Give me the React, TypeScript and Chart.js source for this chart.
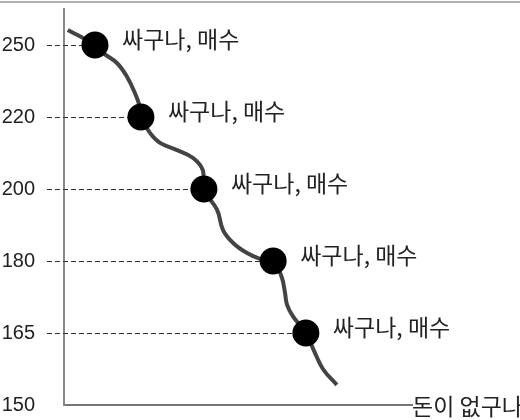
import React, { useEffect, useRef } from "react";
import { Chart, registerables } from "chart.js";

Chart.register(...registerables);

// Price levels shown on the vertical axis (top to bottom)
const priceLabels: string[] = ["250", "220", "200", "180", "165", "150"];

// "Buy" markers: time position and price-level index
const buyX: number[] = [8.9, 22.1, 40.2, 60.1, 69.5];
const buyLevel: number[] = [0, 1, 2, 3, 4];
const buyLabels: string[] = ["싸구나, 매수", "싸구나, 매수", "싸구나, 매수", "싸구나, 매수", "싸구나, 매수"];

// Price path (time, price-level index)
const curveX: number[] = [1.1, 8.9, 11.2, 15.2, 18.1, 20.4, 21.8, 22.1, 24.7, 27.6, 32.5, 37.1, 39.9, 40.2, 44.0, 45.7, 48.6, 52.6, 56.3, 60.1, 62.6, 63.5, 64.1, 65.8, 69.5, 71.6, 74.4, 78.4];
const curveY: number[] = [-0.21, 0, 0.11, 0.25, 0.44, 0.67, 0.86, 1.0, 1.22, 1.36, 1.46, 1.57, 1.74, 2.0, 2.29, 2.57, 2.75, 2.89, 2.97, 3.0, 3.23, 3.44, 3.61, 3.77, 4.0, 4.22, 4.5, 4.72];

const endLabel = "돈이 없구나";

const KR_FONT = '"Noto Sans CJK KR", "Noto Sans", sans-serif';

export default function App() {
  const ref = useRef<HTMLCanvasElement | null>(null);

  useEffect(() => {
    if (!ref.current) return;

    const decor = {
      id: "decor",
      beforeDatasetsDraw(chart: any) {
        const { ctx, chartArea, scales } = chart;
        const xs = scales.x;
        const ys = scales.y;
        ctx.save();
        // top frame line
        ctx.strokeStyle = "#9a9a9a";
        ctx.lineWidth = 1.5;
        ctx.beginPath();
        ctx.moveTo(0, 2);
        ctx.lineTo(chart.width, 2);
        ctx.stroke();
        // dashed guides from axis to each marker
        ctx.strokeStyle = "#333";
        ctx.lineWidth = 1;
        ctx.setLineDash([5, 3]);
        for (let i = 0; i < buyX.length; i++) {
          const y = Math.round(ys.getPixelForValue(buyLevel[i])) + 0.5;
          const x = xs.getPixelForValue(buyX[i]);
          ctx.beginPath();
          ctx.moveTo(chartArea.left - 17, y);
          ctx.lineTo(x, y);
          ctx.stroke();
        }
        ctx.restore();
      },
      afterDatasetsDraw(chart: any) {
        const { ctx, chartArea, scales } = chart;
        const xs = scales.x;
        const ys = scales.y;
        ctx.save();
        ctx.fillStyle = "#222";
        ctx.font = `23px ${KR_FONT}`;
        ctx.textAlign = "left";
        ctx.textBaseline = "middle";
        for (let i = 0; i < buyX.length; i++) {
          const x = xs.getPixelForValue(buyX[i]);
          const y = ys.getPixelForValue(buyLevel[i]);
          ctx.fillText(buyLabels[i], x + 27, y - 6);
        }
        ctx.fillText(endLabel, chartArea.right, chartArea.bottom + 1);
        ctx.restore();
      },
    };

    const chart = new Chart(ref.current, {
      type: "scatter",
      data: {
        datasets: [
          {
            data: curveX.map((x, i) => ({ x, y: curveY[i] })),
            showLine: true,
            tension: 0.4,
            borderColor: "#444",
            borderWidth: 4,
            pointRadius: 0,
            pointHoverRadius: 0,
            order: 2,
          },
          {
            data: buyX.map((x, i) => ({ x, y: buyLevel[i] })),
            showLine: false,
            pointRadius: 13.5,
            pointHoverRadius: 13.5,
            backgroundColor: "#000",
            borderColor: "#000",
            borderWidth: 0,
            order: 1,
          },
        ],
      },
      options: {
        animation: false,
        responsive: false,
        devicePixelRatio: 1,
        layout: { autoPadding: false, padding: { left: 0, right: 108, top: 9, bottom: 15 } },
        plugins: { legend: { display: false }, tooltip: { enabled: false } },
        scales: {
          x: {
            type: "linear",
            min: 0,
            max: 100,
            ticks: { display: false },
            grid: { display: false, drawTicks: false },
            border: { display: true, color: "#777", width: 2 },
          },
          y: {
            type: "linear",
            reverse: true,
            min: -0.5,
            max: 5,
            afterBuildTicks: (scale: any) => {
              scale.ticks = priceLabels.map((_, i) => ({ value: i }));
            },
            afterFit: (scale: any) => {
              scale.width = 64;
              scale.paddingTop = 0;
              scale.paddingBottom = 0;
            },
            ticks: {
              padding: 29,
              color: "#222",
              font: { family: '"Liberation Sans", Arial, sans-serif', size: 20 },
              callback: (v: any) => priceLabels[v] ?? "",
            },
            grid: { display: false, drawTicks: false },
            border: { display: true, color: "#888", width: 2 },
          },
        },
      },
      plugins: [decor],
    });

    return () => chart.destroy();
  }, []);

  return (
    <div style={{ position: "fixed", left: 0, top: 0, width: 520, height: 420, background: "#fff" }}>
      <canvas ref={ref} width={520} height={420} style={{ display: "block", width: 520, height: 420 }} />
    </div>
  );
}
